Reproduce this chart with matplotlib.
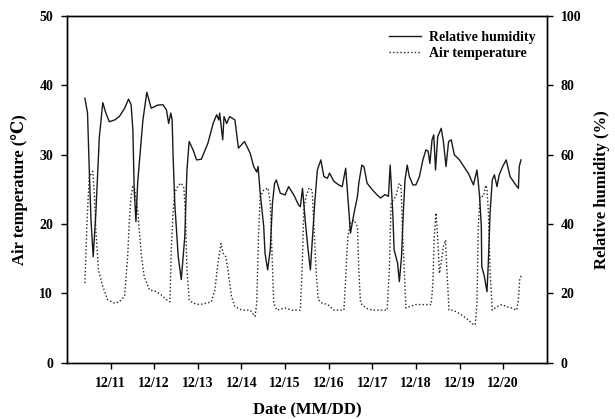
import matplotlib
matplotlib.use("Agg")
import matplotlib.pyplot as plt

plt.rcParams['font.family'] = ['Liberation Serif', 'DejaVu Serif']
plt.rcParams['font.weight'] = 'bold'

# day of December (fractional)
rh_day = [10.41, 10.47, 10.51, 10.55, 10.60, 10.66, 10.74, 10.82, 10.89, 10.97,
          11.09, 11.20, 11.32, 11.41, 11.47, 11.51, 11.54, 11.58, 11.62, 11.74,
          11.83, 11.93, 12.08, 12.20, 12.28, 12.33, 12.38, 12.41, 12.43, 12.47,
          12.55, 12.62, 12.70, 12.75, 12.80, 12.89, 12.97, 13.08, 13.23, 13.35,
          13.43, 13.48, 13.50, 13.57, 13.60, 13.66, 13.73, 13.85, 13.93, 14.07,
          14.20, 14.28, 14.35, 14.38, 14.43, 14.51, 14.54, 14.60, 14.66, 14.71,
          14.76, 14.80, 14.89, 15.00, 15.08, 15.20, 15.31, 15.35, 15.40, 15.46,
          15.52, 15.58, 15.62, 15.68, 15.74, 15.82, 15.89, 15.97, 16.02, 16.12,
          16.23, 16.31, 16.39, 16.45, 16.50, 16.58, 16.66, 16.69, 16.76, 16.81,
          16.88, 17.00, 17.11, 17.19, 17.29, 17.37, 17.41, 17.47, 17.50, 17.58,
          17.62, 17.67, 17.71, 17.75, 17.80, 17.85, 17.93, 18.00, 18.08, 18.16,
          18.23, 18.28, 18.32, 18.37, 18.41, 18.45, 18.50, 18.58, 18.63, 18.69,
          18.75, 18.81, 18.88, 19.00, 19.15, 19.20, 19.32, 19.40, 19.43, 19.46,
          19.50, 19.51, 19.57, 19.63, 19.66, 19.70, 19.75, 19.80, 19.86, 19.91,
          19.99, 20.07, 20.16, 20.26, 20.35, 20.37, 20.41]
rh_val = [76.3, 72, 55.6, 41, 30.6, 43, 65, 75, 72, 69.5,
          70, 71, 73.4, 76, 74.4, 67, 50, 40.7, 52, 70,
          78, 73.4, 74.3, 74.4, 72.9, 69, 72, 70, 60.5, 46,
          30.6, 24, 36.4, 55.6, 63.8, 61.4, 58.5, 58.7, 63.3, 69,
          71.5, 70, 72, 64.3, 71, 69, 71, 70, 61.9, 63.8,
          60.4, 56.6, 55, 56.6, 48.9, 39.3, 31.6, 26.8, 32.6, 46,
          51.8, 52.7, 48.9, 48.4, 50.8, 48.4, 45.5, 45, 50.3, 41.2,
          33.5, 26.8, 34.5, 46, 55.6, 58.5, 53.7, 53.2, 54.7, 52.3,
          51.3, 50.8, 56.1, 46, 37.4, 43.1, 48, 51.8, 57, 56.5,
          51.8, 49.9, 48.4, 47.5, 48.5, 48, 57, 43.1, 32.6, 28.7,
          23.4, 30.6, 43, 52.7, 57, 53.7, 51.3, 51.3, 53.7, 58.5,
          61.4, 61, 57.5, 64.3, 65.7, 55.6, 65.2, 67.6, 63.8, 56.6,
          63.8, 64.3, 60, 58.5, 55.6, 54.7, 51.3, 55.6, 52, 48,
          39.3, 27.8, 24.9, 20.5, 28.7, 43.1, 52.7, 54.2, 50.8, 54.2,
          56.6, 58.5, 53.7, 51.8, 50.3, 56.6, 58.5]

t_day = [10.41, 10.46, 10.51, 10.59, 10.63, 10.66, 10.72, 10.82, 10.93, 11.09,
         11.20, 11.32, 11.39, 11.43, 11.47, 11.51, 11.55, 11.62, 11.70, 11.77,
         11.89, 12.04, 12.16, 12.28, 12.36, 12.39, 12.43, 12.47, 12.55, 12.62,
         12.68, 12.72, 12.75, 12.80, 12.89, 13.04, 13.20, 13.31, 13.39, 13.46,
         13.53, 13.58, 13.64, 13.69, 13.77, 13.85, 14.01, 14.20, 14.31, 14.35,
         14.39, 14.43, 14.51, 14.61, 14.66, 14.70, 14.74, 14.81, 15.00, 15.16,
         15.35, 15.39, 15.43, 15.48, 15.55, 15.62, 15.66, 15.71, 15.76, 15.85,
         15.98, 16.12, 16.35, 16.40, 16.44, 16.50, 16.58, 16.66, 16.69, 16.73,
         16.85, 17.00, 17.19, 17.34, 17.39, 17.43, 17.54, 17.62, 17.66, 17.69,
         17.74, 17.77, 17.85, 18.00, 18.18, 18.35, 18.39, 18.42, 18.46, 18.50,
         18.54, 18.58, 18.63, 18.68, 18.71, 18.76, 18.85, 19.00, 19.09, 19.20,
         19.32, 19.36, 19.40, 19.43, 19.47, 19.55, 19.60, 19.63, 19.66, 19.70,
         19.75, 19.86, 19.97, 20.08, 20.20, 20.31, 20.35, 20.38, 20.42]
t_val = [11.5, 20.6, 26.8, 27.6, 24, 19.2, 13.4, 11, 9.1, 8.6,
         8.8, 9.6, 15.3, 20.6, 24, 25.4, 25, 22, 15.8, 12.4,
         10.5, 10.3, 9.8, 9.1, 8.8, 16.3, 21.6, 24.5, 25.6, 25.9,
         25.2, 20.6, 13.4, 9.1, 8.6, 8.4, 8.6, 8.8, 10.5, 14.4,
         17.2, 15.8, 15.3, 13.4, 9.6, 8.1, 7.6, 7.6, 6.7, 8.6,
         18.2, 24, 24.9, 25.2, 23, 15.8, 8.6, 7.6, 7.9, 7.6,
         7.6, 13.4, 22, 24, 25.2, 24.9, 20, 13.4, 9.1, 8.6,
         8.4, 7.6, 7.6, 13.4, 18.2, 20.1, 20.6, 19.6, 13.4, 8.6,
         7.9, 7.6, 7.6, 7.6, 13.4, 23, 24, 25.9, 25.5, 19.2,
         12.4, 7.9, 8.1, 8.4, 8.4, 8.4, 11.5, 18.2, 21.6, 18,
         12.9, 14.4, 16.8, 17.7, 13.4, 7.6, 7.6, 7.1, 6.7, 6.2,
         5.5, 5.5, 8.6, 19.6, 24, 24, 25.6, 25, 22, 13.4,
         7.6, 8.1, 8.4, 8.1, 7.9, 7.6, 9.1, 12, 12.7]

tick_days = [11, 12, 13, 14, 15, 16, 17, 18, 19, 20]
tick_labels = ['12/11', '12/12', '12/13', '12/14', '12/15',
               '12/16', '12/17', '12/18', '12/19', '12/20']

fig = plt.figure(figsize=(6.15, 4.19), dpi=100)
ax = fig.add_axes([0.109, 0.134, 0.78, 0.828])
ax2 = ax.twinx()

l1, = ax2.plot(rh_day, rh_val, color='#1a1a1a', lw=1.0, label='Relative humidity')
l2, = ax.plot(t_day, t_val, color='#222222', lw=1.0, ls=(0, (1, 1.6)), label='Air temperature')

ax.set_xlim(10, 21)
ax.set_ylim(0, 50)
ax2.set_ylim(0, 100)
ax.set_xticks(tick_days)
ax.set_xticklabels(tick_labels)
ax.set_yticks([0, 10, 20, 30, 40, 50])
ax2.set_yticks([0, 20, 40, 60, 80, 100])

for a in (ax, ax2):
    a.tick_params(direction='out', length=4, width=1, labelsize=10, pad=6)
    for s in a.spines.values():
        s.set_linewidth(1.0)
ax.tick_params(axis='x', pad=6)

ax.set_xlabel('Date (MM/DD)', fontsize=12, fontweight='bold', labelpad=9)
ax.set_ylabel('Air temperature (℃)', fontsize=12, fontweight='bold', labelpad=8)
ax2.set_ylabel('Relative humidity (%)', fontsize=12, fontweight='bold', labelpad=9)

leg = ax2.legend(handles=[l1, l2], loc='upper right', frameon=False,
                 fontsize=10, handlelength=2.3, handletextpad=0.6,
                 borderaxespad=0.4, labelspacing=0.25,
                 bbox_to_anchor=(1.0, 0.99))
for t in leg.get_texts():
    t.set_fontweight('bold')

fig.savefig('out.png', dpi=100)
